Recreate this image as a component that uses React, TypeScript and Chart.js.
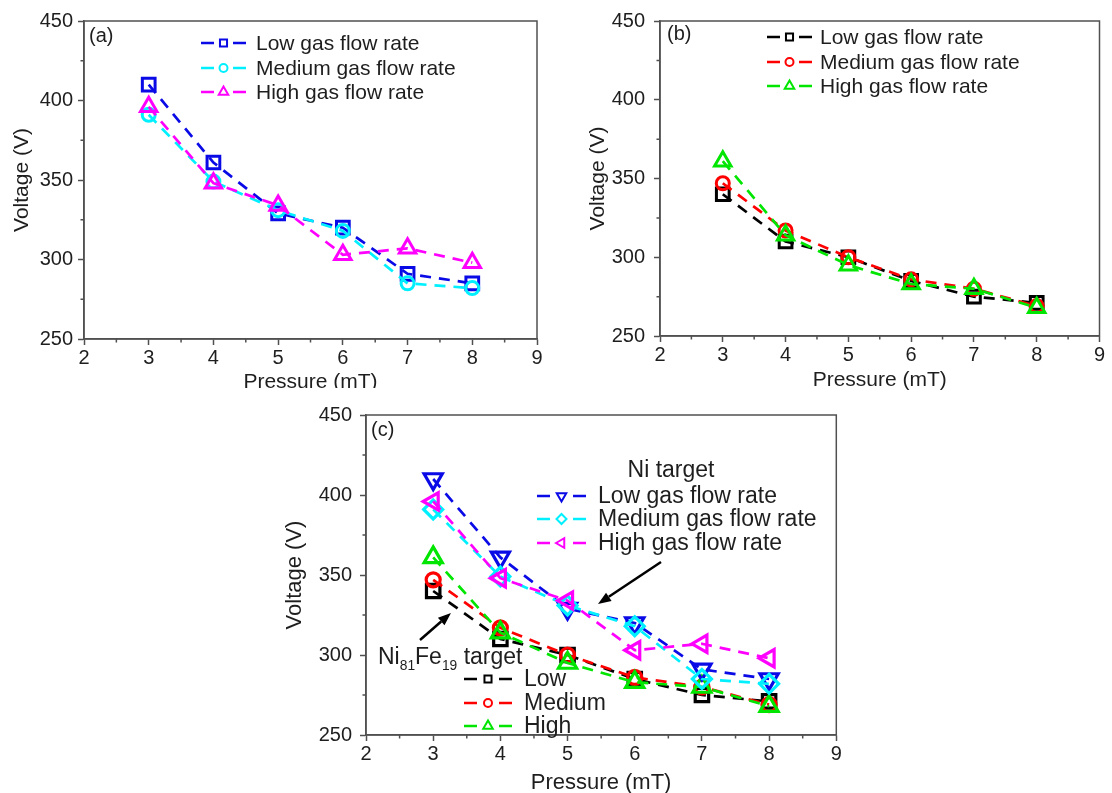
import React, { useEffect, useRef } from 'react';
import { Chart, registerables } from 'chart.js';
Chart.register(...registerables);

// ---------- data ----------
const pressure = [3, 4, 5, 6, 7, 8];
const niLow = [410, 361, 329, 320, 291, 285];
const niMedium = [391, 349, 331, 318, 285, 282];
const niHigh = [396, 348, 334, 303, 307, 298];
const nifeLow = [340, 310, 300, 285, 275, 271];
const nifeMedium = [347, 317, 300, 286, 280, 269];
const nifeHigh = [361, 314, 295, 283, 280, 268];
const xTicks = [2, 3, 4, 5, 6, 7, 8, 9];
const yTicks = [250, 300, 350, 400, 450];
const xMinor = [2.5, 3.5, 4.5, 5.5, 6.5, 7.5, 8.5];
const yMinor = [275, 325, 375, 425];
const labelsLong = ['Low gas flow rate', 'Medium gas flow rate', 'High gas flow rate'];
const labelsShort = ['Low', 'Medium', 'High'];

const FONT = "'Liberation Sans', Arial, Helvetica, sans-serif";
const AXIS = '#505050';
const TEXT = '#1e1e1e';
const DASH = [11, 8];

type Series = {
  label: string; values: number[]; color: string; style: string; rot: number; r: number; lr: number;
};

function drawMarker(ctx: CanvasRenderingContext2D, style: string, x: number, y: number, r: number, rot: number) {
  ctx.beginPath();
  if (style === 'circle') {
    ctx.arc(x, y, r, 0, Math.PI * 2);
  } else if (style === 'rect') {
    const s = r * Math.SQRT1_2;
    ctx.rect(x - s, y - s, 2 * s, 2 * s);
  } else if (style === 'rectRot') {
    ctx.moveTo(x, y - r); ctx.lineTo(x + r, y); ctx.lineTo(x, y + r); ctx.lineTo(x - r, y); ctx.closePath();
  } else {
    let a = (rot * Math.PI) / 180;
    for (let k = 0; k < 3; k++) {
      const px = x + Math.sin(a) * r;
      const py = y - Math.cos(a) * r;
      if (k === 0) ctx.moveTo(px, py); else ctx.lineTo(px, py);
      a += (2 * Math.PI) / 3;
    }
    ctx.closePath();
  }
  ctx.stroke();
}

type LegendBlock = { x0: number; width: number; textX: number; rows: number[]; series: Series[]; fontSize: number };
type TextItem = { text: string; x: number; y: number; align?: CanvasTextAlign; size: number };
type Arrow = { x1: number; y1: number; x2: number; y2: number };
type Extra = {
  legends: LegendBlock[];
  texts: TextItem[];
  arrows: Arrow[];
  subText?: { x: number; y: number; size: number };
};

function makeDataset(s: Series, order: number, ptWidth: number) {
  return {
    label: s.label,
    data: s.values.map((v, i) => ({ x: pressure[i], y: v })),
    borderColor: s.color,
    backgroundColor: 'rgba(0,0,0,0)',
    pointBorderColor: s.color,
    pointBackgroundColor: 'rgba(0,0,0,0)',
    borderWidth: 2.7,
    borderDash: DASH,
    pointStyle: s.style,
    pointRotation: s.rot,
    pointRadius: s.r,
    pointBorderWidth: ptWidth,
    tension: 0,
    order,
    clip: false,
  };
}

type PanelSpec = {
  left: number; top: number; w: number; h: number;
  area: { left: number; top: number; right: number; bottom: number };
  yPad: number; xTitleCenter: number; yTitleCenter: number;
  tickSize: number; titleSize: number;
  series: Series[]; extra: Extra; ptWidth: number;
};

function Panel({ spec }: { spec: PanelSpec }) {
  const ref = useRef<HTMLCanvasElement>(null);
  useEffect(() => {
    const { area, w, h, extra } = spec;
    const titleSize = spec.titleSize;
    const lh = titleSize * 1.2;
    const n = spec.series.length;
    const decor = {
      id: 'decor',
      afterDraw(chart: any) {
        const ctx: CanvasRenderingContext2D = chart.ctx;
        const ca = chart.chartArea;
        const xs = chart.scales.x;
        const ys = chart.scales.y;
        ctx.save();
        ctx.setLineDash([]);
        ctx.strokeStyle = AXIS;
        ctx.lineWidth = 1.5;
        ctx.strokeRect(ca.left, ca.top, ca.right - ca.left, ca.bottom - ca.top);
        ctx.beginPath();
        xMinor.forEach((v) => {
          const px = xs.getPixelForValue(v);
          ctx.moveTo(px, ca.bottom); ctx.lineTo(px, ca.bottom + 3.5);
        });
        yMinor.forEach((v) => {
          const py = ys.getPixelForValue(v);
          ctx.moveTo(ca.left, py); ctx.lineTo(ca.left - 3.5, py);
        });
        ctx.stroke();

        // legends
        extra.legends.forEach((lg) => {
          lg.series.forEach((s, i) => {
            const y = lg.rows[i];
            ctx.strokeStyle = s.color;
            ctx.lineWidth = 2.7;
            ctx.setLineDash([]);
            ctx.beginPath();
            ctx.moveTo(lg.x0, y); ctx.lineTo(lg.x0 + 13, y);
            ctx.moveTo(lg.x0 + lg.width - 13, y); ctx.lineTo(lg.x0 + lg.width, y);
            ctx.stroke();
            ctx.lineWidth = 2;
            drawMarker(ctx, s.style, lg.x0 + lg.width / 2, y, s.lr, s.rot);
            ctx.fillStyle = TEXT;
            ctx.font = `${lg.fontSize}px ${FONT}`;
            ctx.textAlign = 'left';
            ctx.textBaseline = 'middle';
            ctx.fillText(s.label, lg.textX, y + 1);
          });
        });
        // texts
        extra.texts.forEach((t) => {
          ctx.fillStyle = TEXT;
          ctx.font = `${t.size}px ${FONT}`;
          ctx.textAlign = t.align || 'left';
          ctx.textBaseline = 'middle';
          ctx.fillText(t.text, t.x, t.y);
        });
        if (extra.subText) {
          const { x, y, size } = extra.subText;
          const parts: [string, boolean][] = [['Ni', false], ['81', true], ['Fe', false], ['19', true], [' target', false]];
          let cx = x;
          ctx.fillStyle = TEXT;
          ctx.textAlign = 'left';
          ctx.textBaseline = 'middle';
          parts.forEach(([str, sub]) => {
            const fs = sub ? size * 0.6 : size;
            ctx.font = `${fs}px ${FONT}`;
            ctx.fillText(str, cx, sub ? y + 8 : y);
            cx += ctx.measureText(str).width;
          });
        }
        // arrows
        extra.arrows.forEach((a) => {
          const ang = Math.atan2(a.y2 - a.y1, a.x2 - a.x1);
          const hl = 13, hw = 5;
          const bx = a.x2 - Math.cos(ang) * hl;
          const by = a.y2 - Math.sin(ang) * hl;
          ctx.strokeStyle = '#000';
          ctx.fillStyle = '#000';
          ctx.lineWidth = 2.5;
          ctx.beginPath();
          ctx.moveTo(a.x1, a.y1); ctx.lineTo(bx, by);
          ctx.stroke();
          ctx.beginPath();
          ctx.moveTo(a.x2, a.y2);
          ctx.lineTo(bx + Math.sin(ang) * hw, by - Math.cos(ang) * hw);
          ctx.lineTo(bx - Math.sin(ang) * hw, by + Math.cos(ang) * hw);
          ctx.closePath();
          ctx.fill();
        });
        ctx.restore();
      },
    };

    const tickFont = { family: FONT, size: spec.tickSize };
    const chart = new Chart(ref.current as HTMLCanvasElement, {
      type: 'line',
      data: { datasets: spec.series.map((s, i) => makeDataset(s, n - i, spec.ptWidth)) as any },
      options: {
        animation: false,
        responsive: false,
        maintainAspectRatio: false,
        devicePixelRatio: 1,
        layout: { padding: { top: area.top, right: w - area.right, left: 0, bottom: 0 } },
        plugins: { legend: { display: false }, tooltip: { enabled: false } },
        elements: { line: { borderCapStyle: 'butt' } },
        scales: {
          x: {
            type: 'linear',
            min: 2,
            max: 9,
            afterBuildTicks: (s: any) => { s.ticks = xTicks.map((v) => ({ value: v })); },
            afterFit: (s: any) => { s.height = h - area.bottom; },
            ticks: { font: tickFont, color: TEXT, padding: 1, maxRotation: 0, autoSkip: false },
            grid: { drawOnChartArea: false, tickLength: 6, tickColor: AXIS, tickWidth: 1.5 },
            border: { color: AXIS, width: 1.5 },
            title: {
              display: true, text: 'Pressure (mT)', color: TEXT,
              font: { family: FONT, size: titleSize },
              padding: { top: 0, bottom: h - spec.xTitleCenter - lh / 2 },
            },
          },
          y: {
            type: 'linear',
            min: 250,
            max: 450,
            afterBuildTicks: (s: any) => { s.ticks = yTicks.map((v) => ({ value: v })); },
            afterFit: (s: any) => { s.width = area.left; },
            ticks: { font: tickFont, color: TEXT, padding: spec.yPad, autoSkip: false },
            grid: { drawOnChartArea: false, tickLength: 6, tickColor: AXIS, tickWidth: 1.5 },
            border: { color: AXIS, width: 1.5 },
            title: {
              display: true, text: 'Voltage (V)', color: TEXT,
              font: { family: FONT, size: titleSize },
              padding: { top: spec.yTitleCenter - lh / 2, bottom: 0 },
            },
          },
        },
      } as any,
      plugins: [decor],
    });
    return () => chart.destroy();
  }, [spec]);
  return (
    <canvas
      ref={ref}
      width={spec.w}
      height={spec.h}
      style={{ position: 'absolute', left: spec.left, top: spec.top, width: spec.w, height: spec.h }}
    />
  );
}

// ---------- series definitions ----------
const aSeries: Series[] = [
  { label: labelsLong[0], values: niLow, color: '#0a0ae6', style: 'rect', rot: 0, r: 9, lr: 5 },
  { label: labelsLong[1], values: niMedium, color: '#00f0ff', style: 'circle', rot: 0, r: 6.5, lr: 4 },
  { label: labelsLong[2], values: niHigh, color: '#ff00ff', style: 'triangle', rot: 0, r: 9.5, lr: 5.5 },
];
const bSeries: Series[] = [
  { label: labelsLong[0], values: nifeLow, color: '#000000', style: 'rect', rot: 0, r: 9, lr: 5 },
  { label: labelsLong[1], values: nifeMedium, color: '#ff0000', style: 'circle', rot: 0, r: 6.5, lr: 4 },
  { label: labelsLong[2], values: nifeHigh, color: '#00e600', style: 'triangle', rot: 0, r: 9.5, lr: 5.5 },
];
const cNi: Series[] = [
  { label: labelsLong[0], values: niLow, color: '#0a0ae6', style: 'triangle', rot: 180, r: 10.5, lr: 5.5 },
  { label: labelsLong[1], values: niMedium, color: '#00f0ff', style: 'rectRot', rot: 0, r: 9.5, lr: 5 },
  { label: labelsLong[2], values: niHigh, color: '#ff00ff', style: 'triangle', rot: 270, r: 10, lr: 5.5 },
];
const cNiFe: Series[] = [
  { label: labelsShort[0], values: nifeLow, color: '#000000', style: 'rect', rot: 0, r: 9.5, lr: 5 },
  { label: labelsShort[1], values: nifeMedium, color: '#ff0000', style: 'circle', rot: 0, r: 7, lr: 4 },
  { label: labelsShort[2], values: nifeHigh, color: '#00e600', style: 'triangle', rot: 0, r: 10.5, lr: 5.5 },
];

const specA: PanelSpec = {
  left: 0, top: 0, w: 560, h: 388,
  area: { left: 84, top: 21, right: 537, bottom: 339 },
  yPad: 5, xTitleCenter: 382, yTitleCenter: 22, tickSize: 20, titleSize: 21,
  series: aSeries, ptWidth: 3,
  extra: {
    legends: [{ x0: 201, width: 45, textX: 256, rows: [43, 68, 92], series: aSeries, fontSize: 21 }],
    texts: [{ text: '(a)', x: 89, y: 36, size: 20 }],
    arrows: [],
  },
};
const specB: PanelSpec = {
  left: 560, top: 0, w: 552, h: 392,
  area: { left: 100, top: 19, right: 545, bottom: 336 },
  yPad: 9, xTitleCenter: 380, yTitleCenter: 38, tickSize: 20, titleSize: 21,
  series: bSeries, ptWidth: 3,
  extra: {
    legends: [{ x0: 207, width: 45, textX: 260, rows: [37, 62, 86], series: bSeries, fontSize: 21 }],
    texts: [{ text: '(b)', x: 107, y: 34, size: 20 }],
    arrows: [],
  },
};
const specC: PanelSpec = {
  left: 270, top: 390, w: 580, h: 403,
  area: { left: 96, top: 25, right: 567, bottom: 345 },
  yPad: 8, xTitleCenter: 393, yTitleCenter: 25, tickSize: 20, titleSize: 22,
  series: [...cNiFe, ...cNi], ptWidth: 3.2,
  extra: {
    legends: [
      { x0: 267, width: 49, textX: 328, rows: [106, 129, 153], series: cNi, fontSize: 23 },
      { x0: 194, width: 48, textX: 254, rows: [289, 313, 336], series: cNiFe, fontSize: 23 },
    ],
    texts: [
      { text: '(c)', x: 101, y: 40, size: 20 },
      { text: 'Ni target', x: 401, y: 81, align: 'center', size: 23 },
    ],
    arrows: [
      { x1: 391, y1: 172, x2: 328, y2: 214 },
      { x1: 150, y1: 250, x2: 181, y2: 223 },
    ],
    subText: { x: 108, y: 268, size: 23 },
  },
};

export default function App() {
  return (
    <div style={{ position: 'absolute', left: 0, top: 0, width: 1112, height: 793, background: '#fff', overflow: 'hidden' }}>
      <Panel spec={specA} />
      <Panel spec={specB} />
      <Panel spec={specC} />
    </div>
  );
}
